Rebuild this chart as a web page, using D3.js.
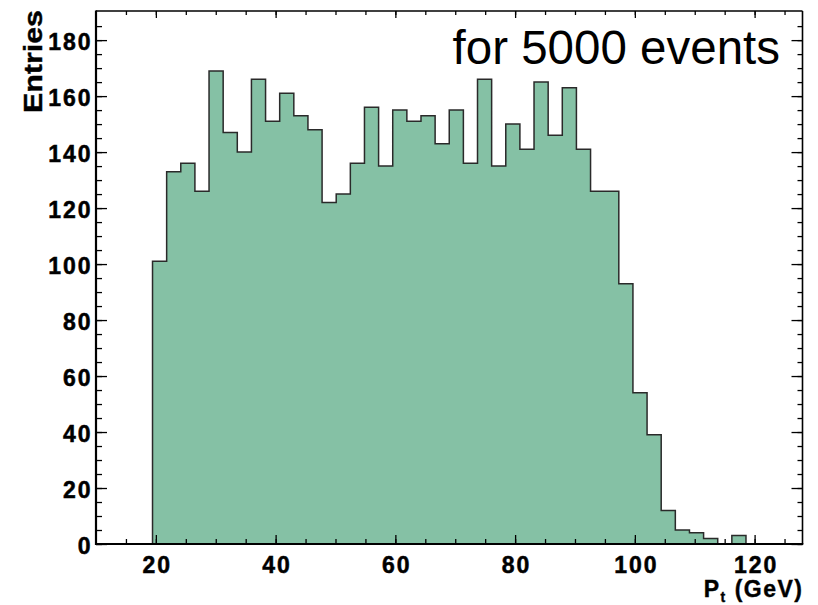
<!DOCTYPE html>
<html>
<head>
<meta charset="utf-8">
<script src="https://cdn.jsdelivr.net/npm/d3@7"></script>
<style>
  html, body { margin: 0; padding: 0; background: #fff; }
  svg { display: block; }
  .tick-label text { font-family: "Liberation Sans", Arial, sans-serif; font-weight: 700; font-size: 23px; letter-spacing: 2px; fill: #000; stroke: #000; stroke-width: 0.5px; }
</style>
</head>
<body>
<svg id="chart" width="818" height="605"></svg>
<script>
// Histogram of transverse momentum: 50 bins between 10 and 128 GeV
const xRange = [10, 128];
const binCounts = [
  0, 0, 0, 0, 101, 133, 136, 126, 169, 147,
  140, 166, 151, 161, 153, 148, 122, 125, 136, 156,
  135, 155, 151, 153, 143, 155, 136, 166, 135, 150,
  141, 165, 146, 163, 141, 126, 126, 93, 54, 39,
  12, 5, 4, 2, 0, 3, 0, 0, 0, 0
];
const yMax = 190.4;
const xTickValues = [20, 40, 60, 80, 100, 120];
const xMinorTicks = d3.range(15, 128, 5);
const yTickValues = [0, 20, 40, 60, 80, 100, 120, 140, 160, 180];
const yMinorTicks = d3.range(0, 190, 5);
const xTitle = "P";
const xTitleSub = "t";
const xTitleUnit = " (GeV)";
const yTitle = "Entries";
const note = "for 5000 events";

const frame = { left: 96, right: 802.5, top: 11, bottom: 544 };
const svg = d3.select("#chart");

const x = d3.scaleLinear().domain(xRange).range([frame.left, frame.right]);
const y = d3.scaleLinear().domain([0, yMax]).range([frame.bottom, frame.top]);

// bin edges
const nBins = binCounts.length;
const binWidth = (xRange[1] - xRange[0]) / nBins;
const bins = binCounts.map((c, i) => ({ x0: xRange[0] + i * binWidth, x1: xRange[0] + (i + 1) * binWidth, c }));

// step outline points
const pts = [[xRange[0], 0]];
bins.forEach(b => { pts.push([b.x0, b.c]); pts.push([b.x1, b.c]); });
pts.push([xRange[1], 0]);

const area = d3.area().x(d => x(d[0])).y0(y(0)).y1(d => y(d[1]));
const line = d3.line().x(d => x(d[0])).y(d => y(d[1]));

svg.append("path").datum(pts).attr("d", area).attr("fill", "#85c1a5").attr("stroke", "none");
svg.append("path").datum(pts).attr("d", line).attr("fill", "none")
  .attr("stroke", "#2a2a2a").attr("stroke-width", 1.5);

// axes: ticks point inward on all four sides
function styleAxis(g) {
  g.select(".domain").remove();
  g.selectAll(".tick line").attr("stroke", "#000").attr("stroke-width", 1.3);
}

svg.append("g").attr("transform", `translate(0,${frame.bottom})`)
  .call(d3.axisBottom(x).tickValues(xMinorTicks).tickSize(-5).tickFormat(""))
  .call(styleAxis);
svg.append("g").attr("class", "tick-label").attr("transform", `translate(0,${frame.bottom})`)
  .call(d3.axisBottom(x).tickValues(xTickValues).tickSize(-9).tickSizeOuter(0).tickPadding(13).tickFormat(d3.format("d")))
  .call(styleAxis)
  .call(g => g.selectAll("text").attr("dx", "1"));

svg.append("g").attr("transform", `translate(0,${frame.top})`)
  .call(d3.axisTop(x).tickValues(xMinorTicks).tickSize(-4).tickFormat(""))
  .call(styleAxis);
svg.append("g").attr("transform", `translate(0,${frame.top})`)
  .call(d3.axisTop(x).tickValues(xTickValues).tickSize(-7).tickFormat(""))
  .call(styleAxis);

svg.append("g").attr("transform", `translate(${frame.left},0)`)
  .call(d3.axisLeft(y).tickValues(yMinorTicks).tickSize(-6).tickFormat(""))
  .call(styleAxis);
svg.append("g").attr("class", "tick-label").attr("transform", `translate(${frame.left},0)`)
  .call(d3.axisLeft(y).tickValues(yTickValues).tickSize(-11).tickPadding(3.5).tickFormat(d3.format("d")))
  .call(styleAxis)
  .call(g => g.selectAll("text").attr("dy", "0.42em"));

svg.append("g").attr("transform", `translate(${frame.right},0)`)
  .call(d3.axisRight(y).tickValues(yMinorTicks).tickSize(-5).tickFormat(""))
  .call(styleAxis);
svg.append("g").attr("transform", `translate(${frame.right},0)`)
  .call(d3.axisRight(y).tickValues(yTickValues).tickSize(-11).tickFormat(""))
  .call(styleAxis);

// frame
svg.append("line").attr("x1", frame.left).attr("x2", frame.right).attr("y1", frame.top).attr("y2", frame.top)
  .attr("stroke", "#000").attr("stroke-width", 1.3);
svg.append("line").attr("x1", frame.right).attr("x2", frame.right).attr("y1", frame.top).attr("y2", frame.bottom)
  .attr("stroke", "#000").attr("stroke-width", 1.6);
svg.append("line").attr("x1", frame.left).attr("x2", frame.left).attr("y1", frame.top - 0.6).attr("y2", frame.bottom + 1)
  .attr("stroke", "#000").attr("stroke-width", 2.2);
svg.append("line").attr("x1", frame.left - 1).attr("x2", frame.right + 0.8).attr("y1", frame.bottom).attr("y2", frame.bottom)
  .attr("stroke", "#000").attr("stroke-width", 2.2);

// titles
svg.append("text")
  .attr("transform", "translate(41.5,10) rotate(-90)")
  .attr("text-anchor", "end")
  .attr("textLength", 103).attr("lengthAdjust", "spacingAndGlyphs")
  .style("font-family", "'Liberation Sans', Arial, sans-serif")
  .style("font-weight", 700).style("font-size", "25px")
  .style("stroke", "#000").style("stroke-width", "0.4px")
  .text(yTitle);

const xt = svg.append("text")
  .attr("x", 803.5).attr("y", 597)
  .attr("text-anchor", "end")
  .style("font-family", "'Liberation Sans', Arial, sans-serif")
  .style("font-weight", 700).style("font-size", "23px").style("letter-spacing", "1.5px")
  .style("stroke", "#000").style("stroke-width", "0.4px");
xt.append("tspan").text(xTitle);
xt.append("tspan").attr("dy", 5).style("font-size", "14px").text(xTitleSub);
xt.append("tspan").attr("dy", -5).text(xTitleUnit);

svg.append("text")
  .attr("x", 780).attr("y", 64)
  .attr("text-anchor", "end")
  .style("font-family", "'Liberation Sans', Arial, sans-serif")
  .style("font-size", "47.5px").style("fill", "#000")
  .text(note);
</script>
</body>
</html>
